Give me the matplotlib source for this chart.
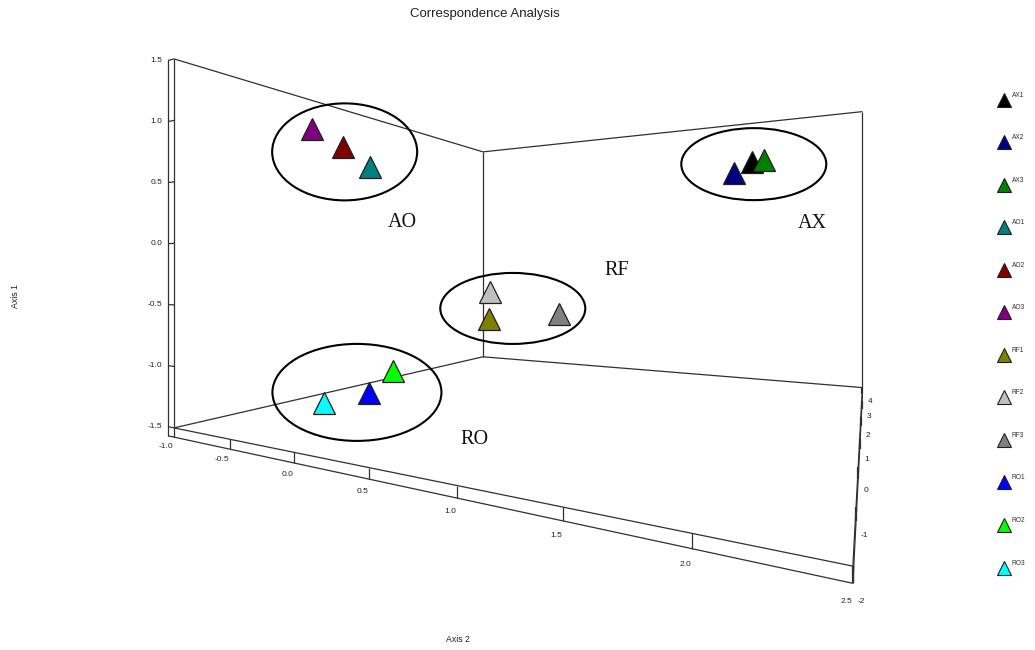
import numpy as np
import matplotlib
matplotlib.use("Agg")
import matplotlib.pyplot as plt
from matplotlib.patches import Ellipse

# ---------------- data ----------------
labels = ['AX1', 'AX2', 'AX3', 'AO1', 'AO2', 'AO3', 'RF1', 'RF2', 'RF3', 'RO1', 'RO2', 'RO3']
axis2 = [1.90, 1.79, 1.97, 0.10, -0.22, -0.48, 0.29, 0.30, 0.82, -0.27, -0.07, -0.67]
axis1 = [0.73, 0.65, 0.74, 0.59, 0.81, 1.00, -0.68, -0.43, -0.61, -1.32, -1.10, -1.47]
axis3 = [1.5, 1.5, 1.5, -1.2, -1.0, -1.0, 0.5, 0.5, 0.5, -0.5, -0.5, -0.5]
colors = ['#000000', '#000080', '#008000', '#008080', '#800000', '#800080',
          '#808000', '#C0C0C0', '#808080', '#0000FF', '#00FF00', '#00FFFF']

groups = ['AO', 'RO', 'RF', 'AX']
axis1_ticks = [1.5, 1.0, 0.5, 0.0, -0.5, -1.0, -1.5]
axis2_ticks = [-1.0, -0.5, 0.0, 0.5, 1.0, 1.5, 2.0, 2.5]
axis3_ticks = [4, 3, 2, 1, 0, -1, -2]

# ---------------- perspective projection (pixel space) ----------------
Z0, ZU, ZW = 0.00813, -0.001077, 0.001085
X0, XU, XW = 1.4146, 0.6584, 0.9427
Y_H, V_EYE = 268.0, -0.2


def proj(u, v, w):
    p = np.asarray(u, float) + 1.0
    q = np.asarray(w, float) + 2.0
    Z = Z0 + ZU * p + ZW * q
    X = X0 + XU * p + XW * q
    return X / Z, Y_H + (V_EYE - np.asarray(v, float)) / Z


W_, H_ = 1035, 650
fig = plt.figure(figsize=(W_ / 100, H_ / 100), dpi=100)
ax = fig.add_axes([0, 0, 1, 1])
ax.set_xlim(0, W_)
ax.set_ylim(H_, 0)
ax.axis('off')

LC = '#303030'
LW = 0.9


def seg(a, b, **kw):
    xa, ya = proj(*a)
    xb, yb = proj(*b)
    ax.plot([xa, xb], [ya, yb], color=kw.get('c', LC), lw=kw.get('lw', LW),
            solid_capstyle='butt', zorder=1)


U0, U1 = -1.0, 2.5
V0, V1 = -1.5, 1.5
Wa, Wb = -2.0, 4.0
RV = V0 - 0.075
RU = U0 - 0.058

# box walls
seg((U0, V0, Wa), (U0, V1, Wa))
seg((U0, V1, Wa), (U0, V1, Wb))
seg((U0, V1, Wb), (U0, V0, Wb))
seg((U0, V0, Wa), (U0, V0, Wb))
seg((U0, V1, Wb), (U1, V1, Wb))
seg((U1, V1, Wb), (U1, V0, Wb))
seg((U0, V0, Wb), (U1, V0, Wb))
seg((U0, V0, Wa), (U1, V0, Wa))
seg((U1, V0, Wa), (U1, V0, Wb))

# axis ribbons
seg((RU, V1, Wa), (RU, RV, Wa))
seg((RU, RV, Wa), (U1, RV, Wa))
seg((U1, RV, Wa), (U1, RV, Wb))

tfont = dict(family=['Liberation Sans', 'DejaVu Sans'], fontsize=6, color='#222222')
for t in axis1_ticks:
    seg((RU, t, Wa), (U0, t, Wa))
    x, y = proj(RU, t, Wa)
    ax.text(x - 6, y, f'{t:.1f}', ha='right', va='center', **tfont)
for t in axis2_ticks:
    seg((t, V0, Wa), (t, RV, Wa))
    x, y = proj(t, V0 - 0.155, Wa)
    ax.text(x - 0.5, y, f'{t:.1f}', ha='right', va='center', **tfont)
for t in axis3_ticks:
    seg((U1, V0, t), (U1, RV, t), lw=1.6)
    x, y = proj(U1, V0 - 0.155, t)
    ax.text(x + 5, y, f'{t:d}', ha='left', va='center', **tfont)

# ---------------- points ----------------
px, py = proj(axis2, axis1, axis3)
for i in range(len(labels)):
    ax.plot(px[i], py[i], marker='^', ms=15.6, mfc=colors[i], mec='#202020',
            mew=0.9, ls='none', zorder=5)

# ---------------- group ellipses and labels ----------------
ell_w = [145, 169, 145, 145]
ell_h = [97, 97, 71, 72]
ell_off = [(3, 4), (-5, 3.5), (0, 0), (3.6, -1)]
lab_off = [(58, 71), (118, 47), (104, -38), (58.5, 59.5)]
for g, w, h, eo, lo in zip(groups, ell_w, ell_h, ell_off, lab_off):
    idx = [i for i, l in enumerate(labels) if l.startswith(g)]
    cx = px[idx].mean() + eo[0]
    cy = py[idx].mean() + eo[1]
    ax.add_patch(Ellipse((cx, cy), w, h, fill=False, ec='black', lw=1.5, zorder=3))
    ax.text(cx + lo[0], cy + lo[1], g, ha='center', va='center',
            family=['Liberation Serif', 'DejaVu Serif'], fontsize=14.5, color='#111111')

# ---------------- legend ----------------
for i, (l, c) in enumerate(zip(labels, colors)):
    ly = 99.7 + i * 42.53
    ax.plot(1004, ly, marker='^', ms=9.8, mfc=c, mec='#202020', mew=0.8, ls='none')
    ax.text(1012, ly - 4.5, l, ha='left', va='center',
            family=['Liberation Sans', 'DejaVu Sans'], fontsize=4.8, color='#333333')

# ---------------- titles ----------------
sans = ['Liberation Sans', 'DejaVu Sans']
ax.text(485, 14, 'Correspondence Analysis', ha='center', va='center',
        family=sans, fontsize=9.5, color='#222222')
ax.text(15, 296, 'Axis 1', ha='center', va='center', rotation=90,
        family=sans, fontsize=6.3, color='#222222')
ax.text(458, 640, 'Axis 2', ha='center', va='center',
        family=sans, fontsize=6.3, color='#222222')

fig.savefig('out.png', dpi=100)
